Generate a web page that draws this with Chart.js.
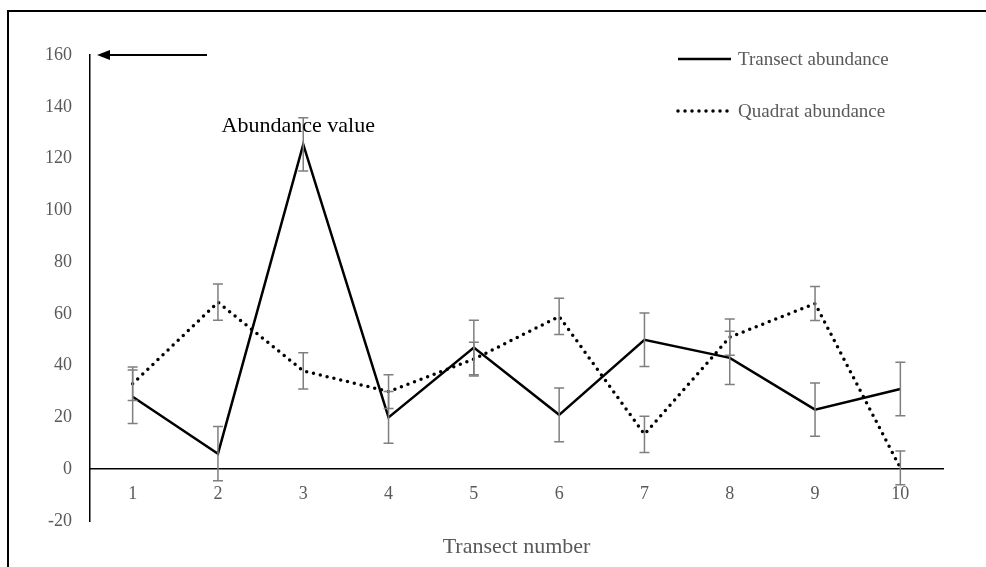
<!DOCTYPE html>
<html>
<head>
<meta charset="utf-8">
<script src="https://cdn.jsdelivr.net/npm/chart.js@4.4.1/dist/chart.umd.min.js"></script>
<style>
  html, body { margin: 0; padding: 0; background: #fff; }
  #wrap { width: 986px; height: 567px; position: relative; }
</style>
</head>
<body>
<div id="wrap"><canvas id="chart" width="986" height="567"></canvas></div>
<script>
// data
let categories = ['1', '2', '3', '4', '5', '6', '7', '8', '9', '10'];
let transect = [28, 6, 125.5, 20, 47, 21, 50, 43, 23, 31];
let transectErr = [10.3, 10.5, 10.3, 10, 10.5, 10.4, 10.3, 10.3, 10.3, 10.3];
let quadrat = [33, 64.5, 38, 30, 42.5, 59, 13.5, 51, 64, 0.5];
let quadratErr = [6.5, 7, 7, 6.5, 6.5, 7, 7, 7, 6.6, 6.5];
let yTicks = [-20, 0, 20, 40, 60, 80, 100, 120, 140, 160];

let serif = '"Liberation Serif", "Times New Roman", serif';
let grey = '#595959';

// whisker bars, drawn on the scales
const errorBars = {
    id: 'errorBars',
    afterDatasetsDraw(chart) {
        const ctx = chart.ctx;
        const xs = chart.scales.x, ys = chart.scales.y;
        const errs = [transectErr, quadratErr];
        ctx.save();
        ctx.strokeStyle = '#7f7f7f';
        ctx.lineWidth = 1.5;
        chart.data.datasets.forEach((ds, d) => {
            ds.data.forEach((v, i) => {
                let x = xs.getPixelForValue(i);
                let top = ys.getPixelForValue(v + errs[d][i]);
                let bot = ys.getPixelForValue(v - errs[d][i]);
                ctx.beginPath();
                ctx.moveTo(x, top); ctx.lineTo(x, bot);
                ctx.moveTo(x - 5, top); ctx.lineTo(x + 5, top);
                ctx.moveTo(x - 5, bot); ctx.lineTo(x + 5, bot);
                ctx.stroke();
            });
        });
        ctx.restore();
    }
};

// frame, legend, arrow, label and axis title
const extras = {
    id: 'extras',
    beforeDraw(chart) {
        const ctx = chart.ctx;
        ctx.save();
        ctx.strokeStyle = '#000';
        ctx.lineWidth = 2;
        ctx.beginPath();
        ctx.moveTo(8, 567);
        ctx.lineTo(8, 11);
        ctx.lineTo(986, 11);
        ctx.stroke();
        ctx.restore();
    },
    afterDraw(chart) {
        const ctx = chart.ctx;
        const xs = chart.scales.x, ys = chart.scales.y;
        const area = chart.chartArea;
        ctx.save();

        // legend
        let lx = 676, ly = [59, 111];
        chart.data.datasets.forEach((ds, d) => {
            ctx.strokeStyle = '#000';
            ctx.lineWidth = ds.borderWidth;
            ctx.lineCap = ds.borderCapStyle || 'butt';
            ctx.setLineDash(ds.borderDash || []);
            ctx.beginPath();
            ctx.moveTo(lx + 2, ly[d]);
            ctx.lineTo(lx + 55, ly[d]);
            ctx.stroke();
            ctx.setLineDash([]);
            ctx.fillStyle = grey;
            ctx.font = '19px ' + serif;
            ctx.textBaseline = 'middle';
            ctx.textAlign = 'left';
            ctx.fillText(ds.label, lx + 62, ly[d] + 1);
        });

        // arrow pointing at the y axis top
        let ay = ys.getPixelForValue(160);
        ctx.strokeStyle = '#000';
        ctx.fillStyle = '#000';
        ctx.lineWidth = 2;
        ctx.lineCap = 'butt';
        ctx.beginPath();
        ctx.moveTo(area.left + 18, ay);
        ctx.lineTo(207, ay);
        ctx.stroke();
        ctx.beginPath();
        ctx.moveTo(area.left + 7, ay);
        ctx.lineTo(area.left + 20, ay - 5);
        ctx.lineTo(area.left + 20, ay + 5);
        ctx.closePath();
        ctx.fill();

        // annotation text
        ctx.fillStyle = '#000';
        ctx.font = '22px ' + serif;
        ctx.textAlign = 'center';
        ctx.textBaseline = 'middle';
        ctx.fillText('Abundance value', xs.getPixelForValue(2) - 5, ys.getPixelForValue(132.5));

        // x axis title, centred on the plot area
        ctx.fillStyle = grey;
        ctx.fillText('Transect number', (area.left + area.right) / 2, area.bottom + 26);
        ctx.restore();
    }
};

new Chart(document.getElementById('chart'), {
    type: 'line',
    data: {
        labels: categories,
        datasets: [
            {
                label: 'Transect abundance',
                data: transect,
                borderColor: '#000',
                borderWidth: 2.5,
                borderCapStyle: 'butt',
                pointRadius: 0,
                tension: 0
            },
            {
                label: 'Quadrat abundance',
                data: quadrat,
                borderColor: '#000',
                borderWidth: 3.5,
                borderDash: [0, 7],
                borderCapStyle: 'round',
                pointRadius: 0,
                tension: 0
            }
        ]
    },
    options: {
        responsive: false,
        animation: false,
        layout: { padding: { top: 55, right: 43, left: 0, bottom: 46 } },
        plugins: {
            legend: { display: false },
            tooltip: { enabled: false }
        },
        scales: {
            x: {
                position: { y: 0 },
                offset: true,
                grid: { display: false, drawTicks: false },
                border: { display: true, color: '#000', width: 1.5 },
                ticks: {
                    color: grey,
                    font: { family: serif, size: 18 },
                    padding: 14,
                    maxRotation: 0
                }
            },
            y: {
                min: -20,
                max: 160,
                afterFit(scale) { scale.width = 90; },
                afterBuildTicks(scale) { scale.ticks = yTicks.map(v => ({ value: v })); },
                grid: { display: false, drawTicks: false },
                border: { display: true, color: '#000', width: 1.5 },
                ticks: {
                    color: grey,
                    font: { family: serif, size: 18 },
                    padding: 18
                }
            }
        }
    },
    plugins: [errorBars, extras]
});
</script>
</body>
</html>
